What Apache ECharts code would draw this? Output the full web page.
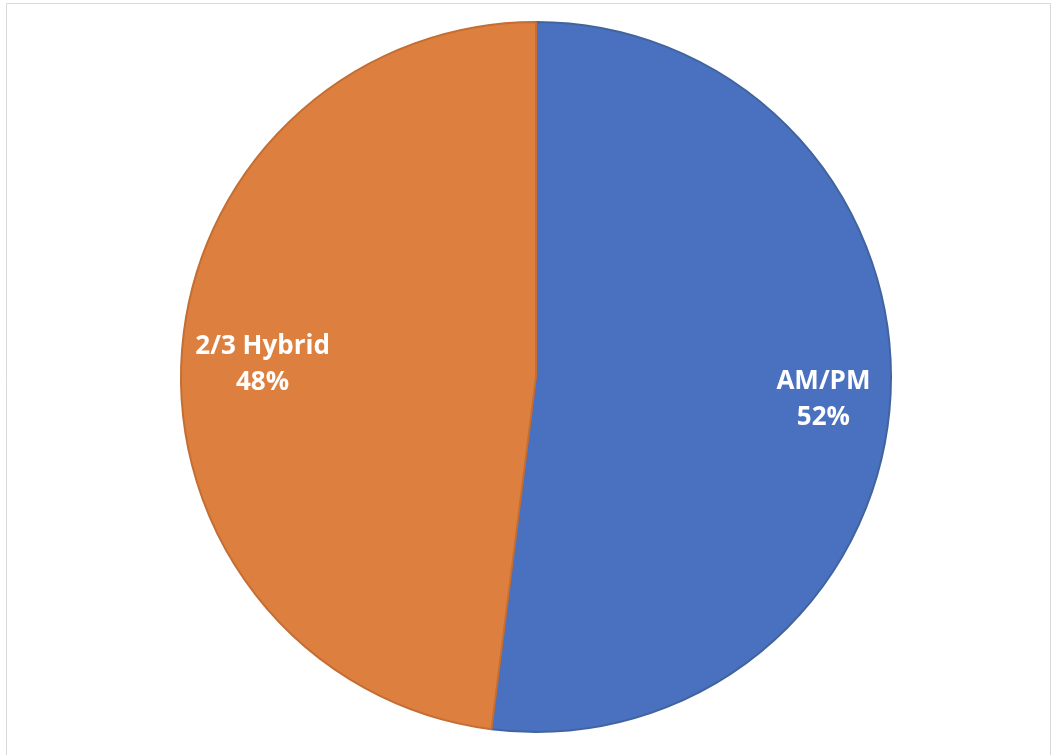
<!DOCTYPE html>
<html>
<head>
<meta charset="utf-8">
<script src="https://cdn.jsdelivr.net/npm/echarts@6/dist/echarts.min.js"></script>
<style>html,body{margin:0;padding:0;background:#fff;}#c{width:1052px;height:755px;}</style>
</head>
<body>
<div id="c"></div>
<script>
const categories = ['AM/PM', '2/3 Hybrid'];
const values = [52, 48];
const colors = ['#4A71BF', '#DD7F3F'];
const edgeColors = ['#41649F', '#C46E34'];

const chart = echarts.init(document.getElementById('c'));
const data = categories.map((c, i) => ({
  name: c, value: values[i],
  itemStyle: { color: colors[i], borderColor: edgeColors[i], borderWidth: 2 }
}));
const labelData = categories.map((c, i) => ({ name: c, value: values[i] }));
chart.setOption({
  animation: false,
  graphic: [{
    type: 'rect', shape: { x: 6.5, y: 3.5, width: 1044, height: 760 },
    style: { fill: 'none', stroke: '#D9D9D9', lineWidth: 1 }, silent: true, z: -1
  }],
  series: [{
    type: 'pie',
    center: [536, 377],
    radius: [0, 355],
    startAngle: 90,
    clockwise: true,
    label: { show: false },
    labelLine: { show: false },
    emphasis: { disabled: true },
    data: data
  }, {
    type: 'pie',
    center: [536, 377],
    radius: [200, 356],
    startAngle: 90,
    clockwise: true,
    silent: true,
    itemStyle: { color: 'transparent', borderWidth: 0 },
    label: {
      show: true, position: 'inside',
      formatter: '{b}\n{d}%',
      color: '#FFFFFF', fontFamily: 'Open Sans', fontWeight: 'bold',
      fontSize: 26, lineHeight: 36, align: 'center',
      offset: [7, 5]
    },
    labelLine: { show: false },
    emphasis: { disabled: true },
    data: labelData
  }]
});
</script>
</body>
</html>
